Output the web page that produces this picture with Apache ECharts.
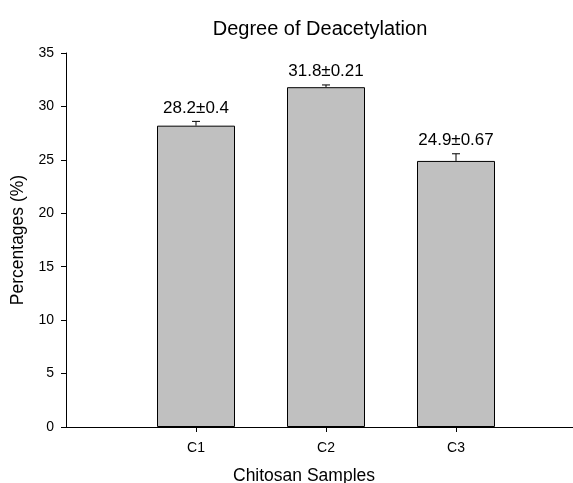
<html>
<head>
    <meta charset="utf-8">
    <title>Degree of Deacetylation</title>
    <script src="https://cdn.jsdelivr.net/npm/echarts@6/dist/echarts.min.js"></script>
    <style>
        html, body { margin: 0; padding: 0; background: white; }
        #main { width: 573px; height: 483px; }
    </style>
</head>
<body>
    <div id='main'></div>
    <script>
        // data
        var CATEGORIES = ['C1', 'C2', 'C3']
        var POSITIONS = [1, 2, 3]
        var VALUES = [28.2, 31.8, 24.9]
        var ERRORS = [0.4, 0.21, 0.67]
        var Y_TICKS = [0, 5, 10, 15, 20, 25, 30, 35]

        var FONT = 'Liberation Sans, Arial, sans-serif'

        var barData = POSITIONS.map((p, i) => [p, VALUES[i]])
        var errData = POSITIONS.map((p, i) => [p, VALUES[i], ERRORS[i]])

        // error bar + label above it
        function RenderError(params, api) {
            var x = api.value(0), v = api.value(1), e = api.value(2)
            var base = api.coord([x, v])
            var top = api.coord([x, v + e])
            var cap = 4
            var style = { stroke: '#000', lineWidth: 1 }
            return {
                type: 'group',
                children: [
                    { type: 'line', shape: { x1: base[0], y1: base[1], x2: top[0], y2: top[1] }, style: style },
                    { type: 'line', shape: { x1: top[0] - cap, y1: top[1], x2: top[0] + cap, y2: top[1] }, style: style },
                    {
                        type: 'text',
                        style: {
                            text: `${v}±${e}`,
                            x: top[0], y: top[1] - 5,
                            align: 'center', verticalAlign: 'bottom',
                            fill: '#000', font: `17px ${FONT}`,
                        }
                    },
                ]
            }
        }

        var myChart = echarts.init(document.getElementById('main'))
        myChart.setOption({
            backgroundColor: 'white',
            animation: false,
            textStyle: { fontFamily: FONT, color: '#000' },
            title: {
                text: 'Degree of Deacetylation',
                left: 315, top: 14, textAlign: 'center',
                textStyle: { fontSize: 20, fontWeight: 'normal', color: '#000', fontFamily: FONT },
            },
            grid: { left: 66, right: 0, top: 53, bottom: 56, outerBoundsMode: 'none', containLabel: false },
            xAxis: {
                type: 'value', min: 0, max: 3.9,
                name: 'Chitosan Samples', nameLocation: 'middle', nameGap: 40,
                nameTextStyle: { fontSize: 17.5, color: '#000', padding: [0, 31, 0, 0] },
                splitLine: { show: false },
                axisLine: { onZero: false, lineStyle: { color: '#000', width: 1 } },
                axisTick: { customValues: POSITIONS, length: 5, lineStyle: { color: '#000' } },
                axisLabel: {
                    customValues: POSITIONS, margin: 14, fontSize: 14, color: '#000',
                    formatter: v => CATEGORIES[POSITIONS.indexOf(v)],
                },
            },
            yAxis: {
                type: 'value', min: 0, max: 35, interval: 5,
                name: 'Percentages (%)', nameLocation: 'middle', nameGap: 33,
                nameTextStyle: { fontSize: 17.5, color: '#000' },
                splitLine: { show: false },
                axisLine: { show: true, lineStyle: { color: '#000', width: 1 } },
                axisTick: { show: true, length: 5, lineStyle: { color: '#000' } },
                axisLabel: { margin: 12, fontSize: 14, color: '#000' },
            },
            series: [{
                type: 'bar',
                data: barData,
                barWidth: 78,
                itemStyle: { color: '#c0c0c0', borderColor: '#000', borderWidth: 1 },
            }, {
                type: 'custom',
                data: errData,
                renderItem: RenderError,
                z: 5,
            }]
        })
    </script>
</body>
</html>
